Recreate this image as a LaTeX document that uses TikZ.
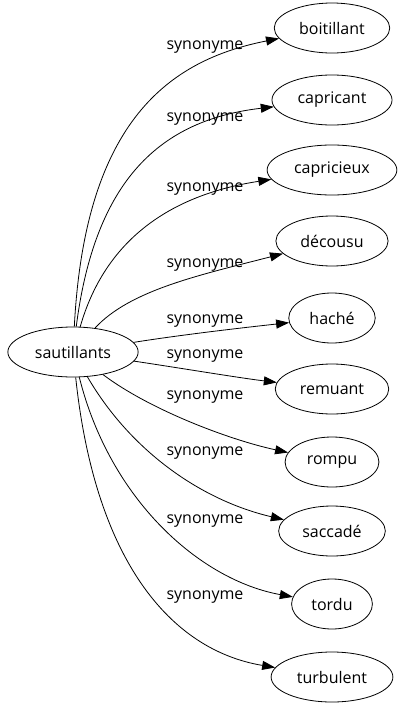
\documentclass[tikz,border=0pt]{standalone}
\usepackage{fontspec}
\setmainfont{Open Sans}
\usetikzlibrary{shapes.geometric,arrows.meta}
\tikzset{main node/.style={ellipse,draw,line width=0.8pt,minimum height=50pt,inner xsep=8pt,
font=\fontsize{16}{19}\selectfont},
lab node/.style={inner sep=0pt,font=\fontsize{16}{19}\selectfont},
syn/.style={draw,line width=0.8pt,-{Triangle[length=13pt,width=9pt]}}}

\begin{document}
\begin{tikzpicture}[x=1pt,y=-1pt]
    \useasboundingbox (0,0) rectangle (406,707);
    \node[main node] (0) at (73,352) {sautillants};
            \node[main node] (1) at (332,28) {boitillant};
            \node[main node] (2) at (332,100) {capricant};
            \node[main node] (3) at (332,170) {capricieux};
            \node[main node] (4) at (332,241) {décousu};
            \node[main node] (5) at (332,318) {haché};
            \node[main node] (6) at (332,389) {remuant};
            \node[main node] (7) at (332,462) {rompu};
            \node[main node] (8) at (332,531) {saccadé};
            \node[main node] (9) at (332,604) {tordu};
            \node[main node] (10) at (332,677) {turbulent};

            \path[syn] (0) .. controls (85,120) and (170,60) .. (1);
            \path[syn] (0) .. controls (95,180) and (160,120) .. (2);
            \path[syn] (0) .. controls (105,240) and (170,195) .. (3);
            \path[syn] (0) .. controls (130,290) and (200,275) .. (4);
            \path[syn] (0) .. controls (180,335) and (240,328) .. (5);
            \path[syn] (0) .. controls (180,368) and (240,378) .. (6);
            \path[syn] (0) .. controls (150,410) and (230,440) .. (7);
            \path[syn] (0) .. controls (130,450) and (200,500) .. (8);
            \path[syn] (0) .. controls (110,500) and (200,580) .. (9);
            \path[syn] (0) .. controls (95,560) and (170,650) .. (10);

            \node[lab node] (11) at (205,47) {synonyme};
            \node[lab node] (22) at (205,119) {synonyme};
            \node[lab node] (33) at (205,189) {synonyme};
            \node[lab node] (44) at (205,265) {synonyme};
            \node[lab node] (55) at (205,321) {synonyme};
            \node[lab node] (66) at (205,356) {synonyme};
            \node[lab node] (77) at (205,397) {synonyme};
            \node[lab node] (88) at (205,453) {synonyme};
            \node[lab node] (99) at (205,521) {synonyme};
            \node[lab node] (1010) at (205,597) {synonyme};

\end{tikzpicture}
\end{document}
